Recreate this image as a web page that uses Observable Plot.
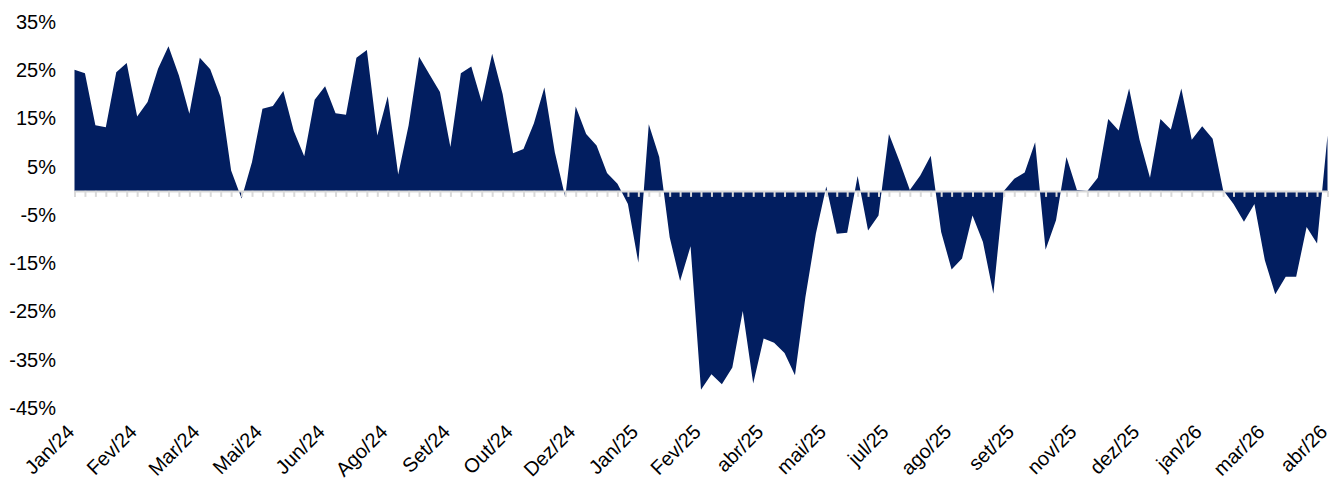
<!DOCTYPE html>
<html>
<head>
<meta charset="utf-8">
<script src="https://cdn.jsdelivr.net/npm/d3@7"></script>
<script src="https://cdn.jsdelivr.net/npm/@observablehq/plot@0.6"></script>
<style>
  html, body { margin: 0; padding: 0; background: #fff; }
  #chart { width: 1338px; height: 481px; }
  svg { font-family: "Liberation Sans", Arial, sans-serif; }
</style>
</head>
<body>
<div id="chart"></div>
<script>
// Weekly series (percent), 121 observations from Jan/24 to abr/26
const values = [
  25.1, 24.4, 13.6, 13.2, 24.6, 26.5, 15.4, 18.4, 25.3, 30.0,
  23.9, 16.0, 27.6, 25.2, 19.4, 4.2, -1.6, 6.0, 17.0, 17.6,
  20.7, 12.4, 7.2, 18.9, 21.7, 16.1, 15.8, 27.6, 29.2, 11.5,
  19.6, 3.4, 13.6, 27.8, 24.1, 20.5, 9.1, 24.4, 25.8, 18.4,
  28.4, 20.1, 7.8, 8.7, 14.0, 21.4, 8.0, -1.3, 17.5, 11.8,
  9.4, 3.7, 1.5, -2.7, -14.9, 13.8, 7.0, -9.6, -18.7, -11.5,
  -41.2, -38.0, -40.1, -36.6, -24.9, -39.9, -30.6, -31.5, -33.6, -38.2,
  -22.0, -8.9, 0.9, -8.9, -8.7, 3.1, -8.2, -5.1, 11.8, 6.2,
  0.2, 3.2, 7.3, -8.5, -16.3, -14.0, -5.1, -10.6, -21.3, 0.0,
  2.5, 3.8, 10.1, -12.2, -6.1, 7.0, 0.2, 0.0, 2.7, 14.9,
  12.5, 21.2, 10.6, 2.7, 14.9, 12.7, 21.2, 10.6, 13.4, 10.8,
  0.2, -2.7, -6.4, -2.7, -14.4, -21.4, -17.8, -17.8, -7.5, -10.9,
  11.5
];
// Category labels shown every 6th observation
const monthLabels = [
  "Jan/24", "Fev/24", "Mar/24", "Mai/24", "Jun/24", "Ago/24", "Set/24",
  "Out/24", "Dez/24", "Jan/25", "Fev/25", "abr/25", "mai/25", "jul/25",
  "ago/25", "set/25", "nov/25", "dez/25", "jan/26", "mar/26", "abr/26"
];
const labelStep = 6;
const yTicks = [35, 25, 15, 5, -5, -15, -25, -35, -45];

const data = values.map((v, i) => ({i, v}));
const xTicks = monthLabels.map((_, k) => k * labelStep);

const chart = Plot.plot({
  width: 1338,
  height: 481,
  marginLeft: 74.5,
  marginRight: 10.5,
  marginTop: 22,
  marginBottom: 73,
  style: {fontFamily: '"Liberation Sans", Arial, sans-serif', background: "#fff"},
  x: {domain: [0, values.length - 1]},
  y: {domain: [-45, 35]},
  marks: [
    Plot.areaY(data, {x: "i", y: "v", fill: "#021e60", curve: "linear"}),
    Plot.ruleY([0], {stroke: "#d9d9d9", strokeWidth: 2}),
    Plot.ruleX(data, {x: "i", y1: 0, y2: 0, insetBottom: -6, stroke: "#d9d9d9", strokeWidth: 2}),
    Plot.axisY({
      ticks: yTicks,
      tickFormat: d => d + "%",
      tickSize: 0,
      tickPadding: 19,
      fontSize: 20,
      color: "#000",
      label: null
    }),
    Plot.axisX({
      ticks: xTicks,
      tickFormat: i => monthLabels[i / labelStep],
      tickRotate: -45,
      tickSize: 0,
      tickPadding: 20,
      dx: -4,
      fontSize: 20,
      color: "#000",
      label: null
    })
  ]
});
document.getElementById("chart").appendChild(chart);
</script>
</body>
</html>
